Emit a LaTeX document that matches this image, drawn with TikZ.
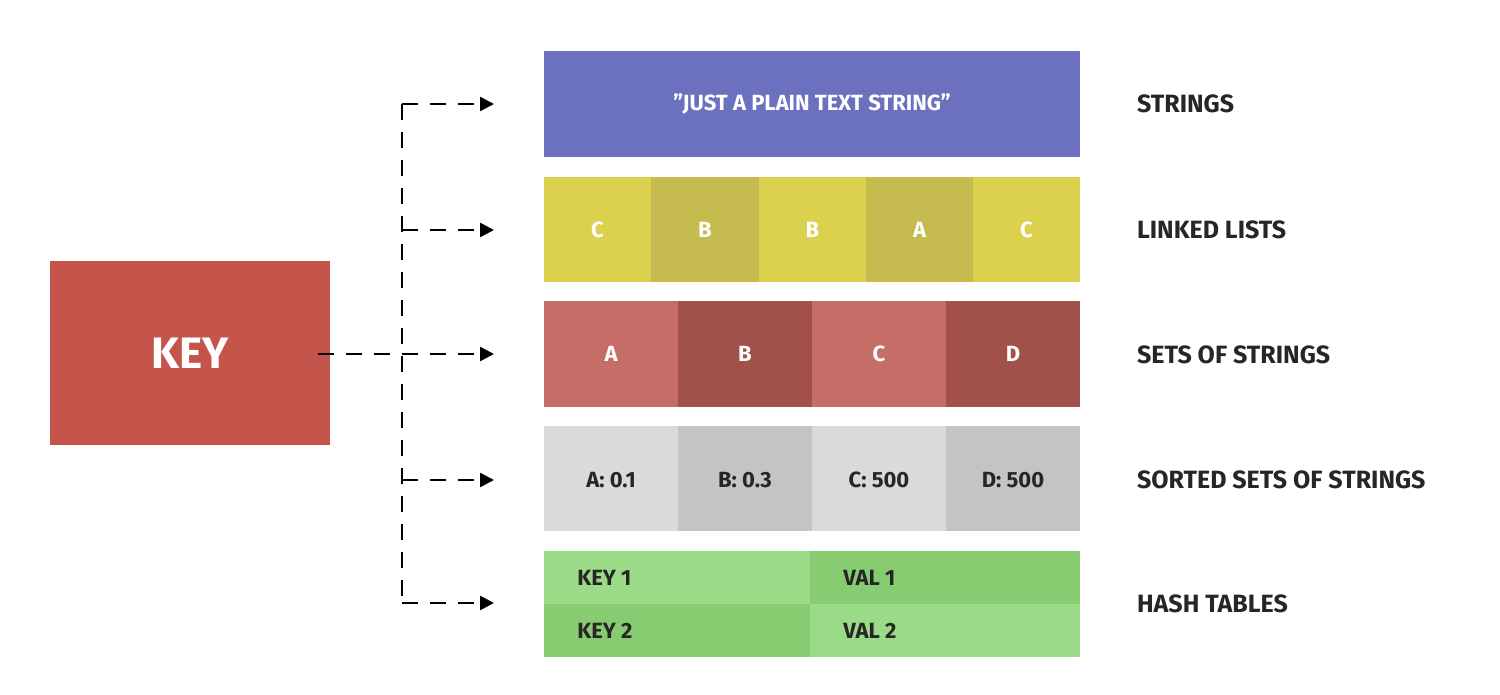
\documentclass[tikz,border=0pt]{standalone}
\usepackage{fontspec}
\setmainfont{Fira Sans}
\usetikzlibrary{arrows.meta}
\definecolor{cblue}{HTML}{6B71BE}
\definecolor{cy1}{HTML}{DCD04F}\definecolor{cy2}{HTML}{C6BB4F}
\definecolor{cr1}{HTML}{C56D66}\definecolor{cr2}{HTML}{A2514A}
\definecolor{cg1}{HTML}{DADADA}\definecolor{cg2}{HTML}{C4C4C4}
\definecolor{cn1}{HTML}{9BDA87}\definecolor{cn2}{HTML}{88CC72}
\definecolor{ckey}{HTML}{C5544A}
\begin{document}
\begin{tikzpicture}[x=0.5pt,y=-0.5pt,
 cell/.style={draw=none,inner sep=0,font=\fontsize{11}{13}\selectfont\bfseries},
 wcell/.style={cell,text=white},
 lab/.style={anchor=west,font=\fontsize{12.5}{15}\selectfont\bfseries,text=black!85},
 dline/.style={black,line width=1.3pt,dash pattern=on 8pt off 6pt},
 arr/.style={dline,-{Triangle[length=7pt,width=7pt]}}]
\useasboundingbox (0,0) rectangle (1500,695);
\fill[ckey] (50,261) rectangle (330,445);
\node[text=white,font=\fontsize{22}{26}\selectfont\bfseries] (key) at (190,353) {KEY};
% row 1
\fill[cblue] (544,51) rectangle (1080,157);
\node[wcell] (r1) at (812,104) {"JUST A PLAIN TEXT STRING"};
% row 2
\foreach \a/\b/\t/\c [count=\i] in {544/651/C/cy1,651/759/B/cy2,759/866/B/cy1,866/973/A/cy2,973/1080/C/cy1}{
 \fill[\c] (\a,177) rectangle (\b,282);
 \node[wcell] (l\i) at ({(\a+\b)/2},230) {\t};}
% row 3
\foreach \a/\b/\t/\c [count=\i] in {544/678/A/cr1,678/812/B/cr2,812/946/C/cr1,946/1080/D/cr2}{
 \fill[\c] (\a,301) rectangle (\b,407);
 \node[wcell] (s\i) at ({(\a+\b)/2},354) {\t};}
% row 4
\foreach \a/\b/\t/\c [count=\i] in {544/678/{A: 0.1}/cg1,678/812/{B: 0.3}/cg2,812/946/{C: 500}/cg1,946/1080/{D: 500}/cg2}{
 \fill[\c] (\a,426) rectangle (\b,531);
 \node[cell,text=black!85] (z\i) at ({(\a+\b)/2},480) {\t};}
% row 5
\fill[cn1] (544,551) rectangle (810,604);
\fill[cn2] (810,551) rectangle (1080,604);
\fill[cn2] (544,604) rectangle (810,657);
\fill[cn1] (810,604) rectangle (1080,657);
\node[cell,anchor=west,text=black!85] (h1) at (577,578) {KEY 1};
\node[cell,anchor=west,text=black!85] (h2) at (577,631) {KEY 2};
\node[cell,anchor=west,text=black!85] (h3) at (843,578) {VAL 1};
\node[cell,anchor=west,text=black!85] (h4) at (843,631) {VAL 2};
% labels
\node[lab] (t1) at (1130,104) {STRINGS};
\node[lab] (t2) at (1130,230) {LINKED LISTS};
\node[lab] (t3) at (1130,355) {SETS OF STRINGS};
\node[lab] (t4) at (1130,480) {SORTED SETS OF STRINGS};
\node[lab] (t5) at (1130,604) {HASH TABLES};
% connectors
\coordinate (e1) at (494,104);\coordinate (e2) at (494,230);
\coordinate (e3) at (494,354);\coordinate (e4) at (494,480);
\coordinate (e5) at (494,603);
\coordinate (k) at (318,354);
\coordinate (tt) at (402,104);\coordinate (tb) at (402,603);
\coordinate (j2) at (402,230);\coordinate (j4) at (402,480);
\draw[dline] (tt) -- (tb);
\draw[arr] (tt) -- (e1);
\draw[arr] (j2) -- (e2);
\draw[arr] (k) -- (e3);
\draw[arr] (j4) -- (e4);
\draw[arr] (tb) -- (e5);
\end{tikzpicture}
\end{document}
